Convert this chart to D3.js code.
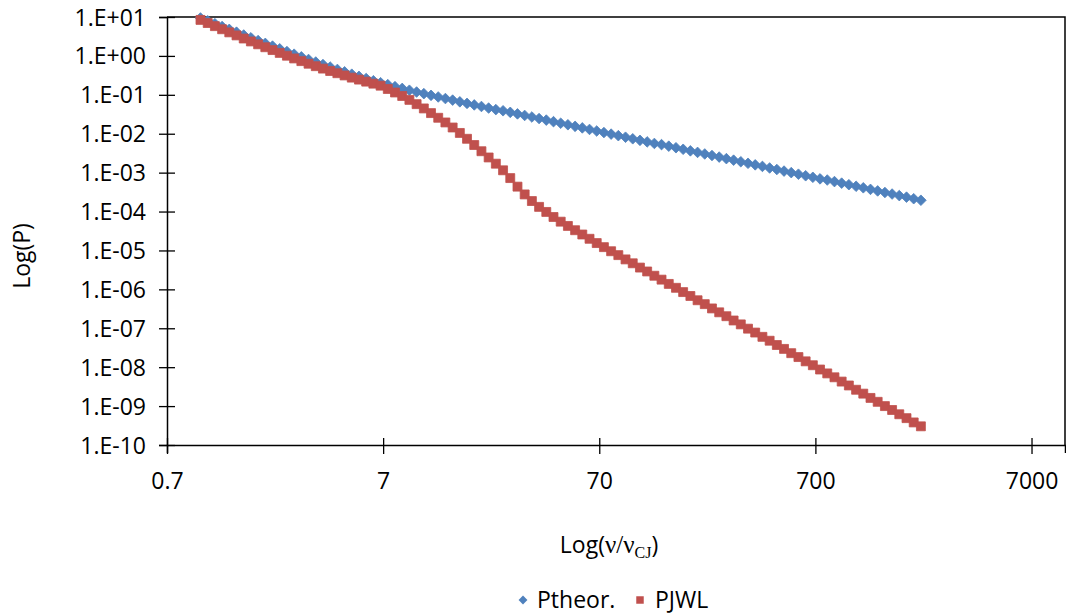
<!DOCTYPE html>
<html>
<head>
<meta charset="utf-8">
<script src="https://cdn.jsdelivr.net/npm/d3@7/dist/d3.min.js"></script>
<style>
  html, body { margin: 0; padding: 0; background: #fff; }
  svg { display: block; }
  text { font-family: "Open Sans", "Noto Sans", sans-serif; fill: #000; }
</style>
</head>
<body>
<svg id="chart" width="1066" height="614"></svg>
<script>
// Specific volume ratio v/vCJ for each sample
const ratio = [
  1, 1.08, 1.166, 1.259, 1.359, 1.468, 1.585, 1.711, 1.848, 1.995,
  2.154, 2.326, 2.512, 2.712, 2.929, 3.162, 3.415, 3.687, 3.981, 4.299,
  4.642, 5.012, 5.412, 5.843, 6.31, 6.813, 7.356, 7.943, 8.577, 9.261,
  10, 10.8, 11.66, 12.59, 13.59, 14.68, 15.85, 17.11, 18.48, 19.95,
  21.54, 23.26, 25.12, 27.12, 29.29, 31.62, 34.15, 36.87, 39.81, 42.99,
  46.42, 50.12, 54.12, 58.43, 63.1, 68.13, 73.56, 79.43, 85.77, 92.61,
  100, 108, 116.6, 125.9, 135.9, 146.8, 158.5, 171.1, 184.8, 199.5,
  215.4, 232.6, 251.2, 271.2, 292.9, 316.2, 341.5, 368.7, 398.1, 429.9,
  464.2, 501.2, 541.2, 584.3, 631, 681.3, 735.6, 794.3, 857.7, 926.1,
  1000, 1080, 1166, 1259, 1359, 1468, 1585, 1711, 1848, 1995, 2154
];

// Decimal exponent of the theoretical pressure, log10(Ptheor.)
const ptheorExp = [
  0.975, 0.902, 0.828, 0.755, 0.682, 0.610, 0.537, 0.465, 0.394, 0.322,
  0.252, 0.182, 0.112, 0.044, -0.024, -0.092, -0.157, -0.222, -0.287, -0.348,
  -0.409, -0.470, -0.526, -0.582, -0.638, -0.689, -0.739, -0.790, -0.836, -0.882,
  -0.928, -0.970, -1.013, -1.055, -1.096, -1.136, -1.18, -1.22, -1.26, -1.30,
  -1.34, -1.38, -1.41, -1.45, -1.49, -1.53, -1.57, -1.61, -1.65, -1.69,
  -1.73, -1.77, -1.81, -1.85, -1.89, -1.93, -1.97, -2.01, -2.05, -2.09,
  -2.13, -2.17, -2.21, -2.25, -2.28, -2.32, -2.36, -2.40, -2.44, -2.48,
  -2.52, -2.56, -2.60, -2.64, -2.68, -2.72, -2.76, -2.80, -2.84, -2.88,
  -2.92, -2.96, -3.00, -3.04, -3.08, -3.12, -3.16, -3.19, -3.23, -3.27,
  -3.31, -3.35, -3.39, -3.43, -3.47, -3.51, -3.55, -3.59, -3.63, -3.67, -3.71
];

// Decimal exponent of the JWL pressure, log10(PJWL)
const pjwlExp = [
  0.925, 0.845, 0.765, 0.685, 0.605, 0.527, 0.447, 0.372, 0.298, 0.223,
  0.150, 0.077, 0.005, -0.065, -0.134, -0.201, -0.264, -0.326, -0.388, -0.445,
  -0.502, -0.558, -0.609, -0.661, -0.713, -0.765, -0.85, -0.94, -1.03, -1.13,
  -1.24, -1.35, -1.47, -1.59, -1.71, -1.84, -1.98, -2.13, -2.29, -2.45,
  -2.61, -2.77, -2.94, -3.14, -3.36, -3.56, -3.73, -3.88, -4.01, -4.14,
  -4.26, -4.37, -4.48, -4.59, -4.70, -4.81, -4.915, -5.02, -5.12, -5.23,
  -5.33, -5.44, -5.54, -5.65, -5.75, -5.86, -5.96, -6.07, -6.17, -6.28,
  -6.38, -6.49, -6.59, -6.69, -6.80, -6.90, -7.01, -7.11, -7.22, -7.32,
  -7.43, -7.53, -7.64, -7.74, -7.85, -7.95, -8.06, -8.16, -8.26, -8.37,
  -8.47, -8.58, -8.68, -8.79, -8.89, -9.00, -9.10, -9.21, -9.31, -9.42, -9.52
];

// Axis ticks and their labels
const xTicks = [0.7, 7, 70, 700, 7000];
const xTickLabels = ["0.7", "7", "70", "700", "7000"];
const yTicks = [1e1, 1e0, 1e-1, 1e-2, 1e-3, 1e-4, 1e-5, 1e-6, 1e-7, 1e-8, 1e-9, 1e-10];
const yTickLabels = ["1.E+01", "1.E+00", "1.E-01", "1.E-02", "1.E-03", "1.E-04",
                     "1.E-05", "1.E-06", "1.E-07", "1.E-08", "1.E-09", "1.E-10"];

const seriesNames = ["Ptheor.", "PJWL"];
const seriesColors = ["#4F81BD", "#C0504D"];

const FONT = "23px";
const SERIF = "'Liberation Serif', 'DejaVu Serif', serif";
const svg = d3.select("#chart");

const plot = { left: 167, right: 1065, top: 17, bottom: 445 };

const x = d3.scaleLog().domain([0.7, 10000]).range([plot.left, plot.right]);
const y = d3.scaleLog().domain([1e-10, 10]).range([plot.bottom, plot.top]);

const toPoints = exps => ratio.map((r, i) => ({ r, p: Math.pow(10, exps[i]) }))
                              .filter(d => !isNaN(d.p));
const theorPts = toPoints(ptheorExp);
const jwlPts = toPoints(pjwlExp);

// Plot-area frame (top and right edges)
svg.append("path")
  .attr("d", `M${plot.left},${plot.top}H${plot.right}V${plot.bottom}`)
  .attr("fill", "none")
  .attr("stroke", "#000")
  .attr("stroke-width", 1.5);

// Y axis with ticks crossing the axis line
const yAxis = svg.append("g")
  .attr("transform", `translate(${plot.left},0)`)
  .call(d3.axisLeft(y).tickValues(yTicks).tickSize(8)
        .tickFormat((d, i) => yTickLabels[i]));
yAxis.select(".domain").attr("stroke", "#000").attr("stroke-width", 1.5);
yAxis.selectAll(".tick line").attr("x1", 8).attr("x2", -8).attr("stroke", "#000").attr("stroke-width", 1.3);
yAxis.selectAll(".tick text")
  .attr("x", -21).attr("dy", "0.35em")
  .style("font-size", FONT);

// X axis with ticks crossing the axis line
const xAxis = svg.append("g")
  .attr("transform", `translate(0,${plot.bottom})`)
  .call(d3.axisBottom(x).tickValues(xTicks).tickSize(8)
        .tickFormat((d, i) => xTickLabels[i]));
xAxis.select(".domain").attr("stroke", "#000").attr("stroke-width", 1.5);
xAxis.selectAll(".tick line").attr("y1", -7).attr("y2", 9).attr("stroke", "#000").attr("stroke-width", 1.3);
xAxis.selectAll(".tick text")
  .attr("y", 36).attr("dy", "0.35em")
  .style("font-size", FONT);

// Markers
const diamond = d3.symbol().type(d3.symbolDiamond2).size(72);
const square = d3.symbol().type(d3.symbolSquare).size(80);

svg.append("g").selectAll("path")
  .data(theorPts)
  .join("path")
  .attr("d", diamond)
  .attr("transform", d => `translate(${x(d.r)},${y(d.p)})`)
  .attr("fill", seriesColors[0])
  .attr("stroke", seriesColors[0])
  .attr("stroke-width", 0.8);

svg.append("g").selectAll("path")
  .data(jwlPts)
  .join("path")
  .attr("d", square)
  .attr("transform", d => `translate(${x(d.r)},${y(d.p)})`)
  .attr("fill", seriesColors[1])
  .attr("stroke", seriesColors[1])
  .attr("stroke-width", 0.8);

// Axis titles
svg.append("text")
  .attr("transform", "translate(30,256) rotate(-90)")
  .attr("text-anchor", "middle")
  .style("font-size", FONT)
  .text("Log(P)");

const xTitle = svg.append("text")
  .attr("x", 609).attr("y", 553)
  .attr("text-anchor", "middle")
  .style("font-size", FONT);
xTitle.append("tspan").text("Log(");
xTitle.append("tspan").style("font-family", SERIF).style("font-size", "25px").text("ν/ν");
xTitle.append("tspan").attr("dy", 5).style("font-size", "16px")
  .style("font-family", SERIF).text("CJ");
xTitle.append("tspan").attr("dy", -5).text(")");

// Legend
const legend = svg.append("g");
legend.append("path")
  .attr("d", d3.symbol().type(d3.symbolDiamond2).size(50)())
  .attr("transform", "translate(523,600)")
  .attr("fill", seriesColors[0]);
legend.append("text")
  .attr("x", 537).attr("y", 600).attr("dy", "0.35em")
  .style("font-size", FONT)
  .text(seriesNames[0]);
legend.append("path")
  .attr("d", d3.symbol().type(d3.symbolSquare).size(56)())
  .attr("transform", "translate(640,600)")
  .attr("fill", seriesColors[1]);
legend.append("text")
  .attr("x", 655).attr("y", 600).attr("dy", "0.35em")
  .style("font-size", FONT)
  .text(seriesNames[1]);
</script>
</body>
</html>
